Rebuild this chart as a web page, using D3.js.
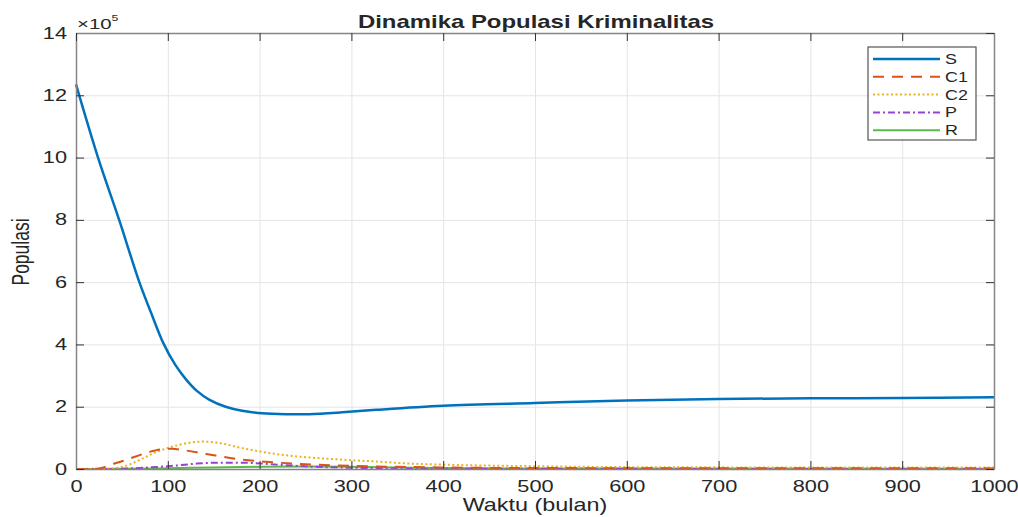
<!DOCTYPE html>
<head>
<meta charset="utf-8">
<script src="https://d3js.org/d3.v7.min.js"></script>
</head>
<style>
body { margin: 0; background: #fff; }
text { font-family: "Liberation Sans", Arial, sans-serif; fill: #262626; }
.grid line { stroke: #e4e4e4; stroke-width: 1px; }
.grid path { display: none; }
.line { fill: none; }
</style>
<body>
<script>
// values in units of 10^5
var tS  = [0, 24, 47, 69, 82, 95, 108, 120, 132, 145, 163, 181, 203, 230, 254, 290, 327, 400, 500, 600, 700, 800, 900, 1000];
var vS  = [12.35, 10.0, 8.0, 6.0, 5.0, 4.05, 3.35, 2.87, 2.5, 2.23, 2.0, 1.87, 1.79, 1.76, 1.76, 1.82, 1.9, 2.03, 2.12, 2.2, 2.25, 2.27, 2.28, 2.3];
var tC1 = [0, 20, 30, 36, 50, 65, 80, 95, 105, 116, 135, 152, 178, 207, 239, 300, 400, 500, 1000];
var vC1 = [0, 0, 0.05, 0.12, 0.25, 0.4, 0.55, 0.64, 0.65, 0.61, 0.52, 0.43, 0.31, 0.23, 0.17, 0.1, 0.05, 0.03, 0.02];
var tC2 = [0, 30, 40, 54, 70, 87, 109, 125, 138, 155, 181, 218, 250, 290, 327, 360, 400, 500, 600, 800, 1000];
var vC2 = [0, 0, 0.02, 0.1, 0.3, 0.54, 0.75, 0.85, 0.88, 0.84, 0.67, 0.48, 0.38, 0.3, 0.24, 0.18, 0.14, 0.09, 0.06, 0.05, 0.05];
var tP  = [0, 40, 60, 80, 109, 130, 150, 181, 205, 225, 260, 300, 400, 1000];
var vP  = [0, 0, 0.02, 0.05, 0.11, 0.17, 0.2, 0.2, 0.17, 0.13, 0.07, 0.04, 0.01, 0];
var tR  = [0, 50, 100, 150, 200, 250, 300, 350, 400, 500, 1000];
var vR  = [0, 0.005, 0.025, 0.05, 0.07, 0.08, 0.07, 0.05, 0.03, 0.015, 0.01];
var xTicks = [0, 100, 200, 300, 400, 500, 600, 700, 800, 900, 1000];
var yTicks = [0, 2, 4, 6, 8, 10, 12, 14];

var series = [
  {name: "S",  t: tS,  v: vS,  color: "#0072BD", w: 2.5, dash: null, smooth: true},
  {name: "C1", t: tC1, v: vC1, color: "#D95319", w: 2,   dash: "11,8"},
  {name: "C2", t: tC2, v: vC2, color: "#EDB120", w: 2,   dash: "2,2.5"},
  {name: "P",  t: tP,  v: vP,  color: "#9A3FD8", w: 2,   dash: "7,3,2,3"},
  {name: "R",  t: tR,  v: vR,  color: "#5CB848", w: 2,   dash: null}
];

var margin = {top: 33, right: 24, bottom: 48, left: 76},
    W = 1018, H = 517,
    width = W - margin.left - margin.right,
    height = H - margin.top - margin.bottom;
var SX = 1.36; // horizontal text stretch seen in the picture

var x = d3.scaleLinear().domain([0, 1000]).range([0, width]);
var y = d3.scaleLinear().domain([0, 14]).range([height, 0]);

var svg = d3.select("body").append("svg")
    .attr("width", W).attr("height", H);
var g = svg.append("g")
    .attr("transform", "translate(" + margin.left + "," + margin.top + ")");

// grid
g.append("g").attr("class", "grid")
    .attr("transform", "translate(0," + height + ")")
    .call(d3.axisBottom(x).tickValues(xTicks).tickSize(-height).tickFormat(""));
g.append("g").attr("class", "grid")
    .call(d3.axisLeft(y).tickValues(yTicks).tickSize(-width).tickFormat(""));

// lines
var line = d3.line()
    .x(function(d) { return x(d[0]); })
    .y(function(d) { return y(d[1]); })
    .curve(d3.curveMonotoneX);
var smoothLine = d3.line()
    .x(function(d) { return x(d[0]); })
    .y(function(d) { return y(d[1]); })
    .curve(d3.curveCatmullRom.alpha(0.5));

series.slice().reverse().forEach(function(s) {
  var pts = s.t.map(function(t, i) { return [t, s.v[i]]; });
  g.append("path")
      .datum(pts)
      .attr("class", "line")
      .attr("stroke", s.color)
      .attr("stroke-width", s.w)
      .attr("stroke-dasharray", s.dash)
      .attr("d", s.smooth ? smoothLine : line);
});

// axes (ticks inward, box)
function styleAxis(sel) {
  sel.selectAll("path").attr("stroke", "#858585").attr("stroke-width", 1.5);
  sel.selectAll("line").attr("stroke", "#333");
  sel.selectAll("text").style("font-size", "16px").attr("fill", "#262626");
}
g.append("g")
    .attr("transform", "translate(0," + height + ")")
    .call(d3.axisBottom(x).tickValues(xTicks).tickFormat(d3.format("d")).tickSizeInner(-8).tickSizeOuter(0))
    .call(styleAxis)
    .selectAll("text").attr("y", 23).attr("dy", 0)
    .attr("transform", "scale(" + SX + ",1)");
g.append("g")
    .call(d3.axisLeft(y).tickValues(yTicks).tickSizeInner(-8).tickSizeOuter(0))
    .call(styleAxis)
    .selectAll("text").attr("x", -9 / SX)
    .attr("transform", "scale(" + SX + ",1)");
g.append("g")
    .call(d3.axisTop(x).tickValues(xTicks).tickSizeInner(-8).tickSizeOuter(0).tickFormat(""))
    .call(styleAxis);
g.append("g")
    .attr("transform", "translate(" + width + ",0)")
    .call(d3.axisRight(y).tickValues(yTicks).tickSizeInner(-8).tickSizeOuter(0).tickFormat(""))
    .call(styleAxis);

// exponent
var ex = g.append("text").attr("x", 1 / SX).attr("y", -4)
    .attr("transform", "scale(" + SX + ",1)")
    .style("font-size", "15px");
ex.append("tspan").text("\u00d710");
ex.append("tspan").attr("dy", -8).style("font-size", "9px").text("5");

// title and labels
svg.append("text")
    .attr("x", 536 / 1.33).attr("y", 28)
    .attr("transform", "scale(1.33,1)")
    .attr("text-anchor", "middle")
    .style("font-size", "18px").style("font-weight", "bold")
    .text("Dinamika Populasi Kriminalitas");
svg.append("text")
    .attr("x", 535 / 1.3).attr("y", 511)
    .attr("transform", "scale(1.3,1)")
    .attr("text-anchor", "middle")
    .style("font-size", "18px")
    .text("Waktu (bulan)");
svg.append("text")
    .attr("transform", "translate(29,252) scale(1.35,1) rotate(-90)")
    .attr("text-anchor", "middle")
    .style("font-size", "17.5px")
    .text("Populasi");

// legend
var lg = svg.append("g").attr("transform", "translate(868,47)");
lg.append("rect")
    .attr("width", 108).attr("height", 93)
    .attr("fill", "#fff").attr("stroke", "#555").attr("stroke-width", 1.2);
series.forEach(function(s, i) {
  var yy = 12 + i * 17.8;
  lg.append("line")
      .attr("x1", 5).attr("x2", 72).attr("y1", yy).attr("y2", yy)
      .attr("stroke", s.color).attr("stroke-width", s.w)
      .attr("stroke-dasharray", s.dash);
  lg.append("text")
      .attr("x", 77 / 1.28).attr("y", yy + 5)
      .attr("transform", "scale(1.28,1)")
      .style("font-size", "14px")
      .text(s.name);
});
</script>
</body>
